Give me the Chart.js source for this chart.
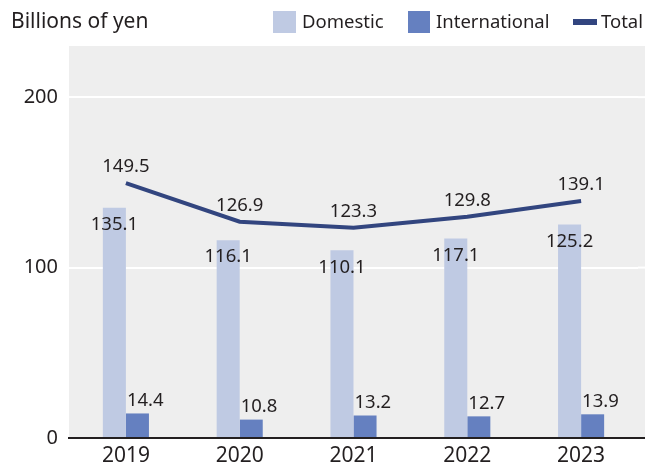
<!DOCTYPE html>
<html>
<head>
<meta charset="utf-8">
<script src="https://cdn.jsdelivr.net/npm/chart.js@4"></script>
<style>
  html, body { margin: 0; padding: 0; background: #fff; }
  #wrap { width: 645px; height: 466px; }
</style>
</head>
<body>
<div id="wrap"><canvas id="barChart" width="645" height="466"></canvas></div>
<script>
  var years = ['2019', '2020', '2021', '2022', '2023'];
  var domestic = [135.1, 116.1, 110.1, 117.1, 125.2];
  var international = [14.4, 10.8, 13.2, 12.7, 13.9];
  var total = [149.5, 126.9, 123.3, 129.8, 139.1];
  var yTicks = [0, 100, 200];

  var textColor = '#231f20';
  var fontName = '"Noto Sans", sans-serif';

  // grey plot background + white grid lines carried to the page edge
  var plotBg = {
    id: 'plotBg',
    beforeDraw: function (chart) {
      var ctx = chart.ctx, a = chart.chartArea;
      ctx.save();
      ctx.fillStyle = '#eeeeee';
      ctx.fillRect(a.left, a.top, chart.width - a.left, a.bottom - a.top);
      var ys = chart.scales.y;
      ctx.strokeStyle = '#ffffff';
      ctx.lineWidth = 2;
      yTicks.forEach(function (v) {
        if (v === 0) return;
        var py = ys.getPixelForValue(v);
        ctx.beginPath();
        ctx.moveTo(a.right, py);
        ctx.lineTo(chart.width, py);
        ctx.stroke();
      });
      ctx.restore();
    },
    afterDraw: function (chart) {
      var ctx = chart.ctx, a = chart.chartArea;
      ctx.save();
      ctx.strokeStyle = textColor;
      ctx.lineWidth = 2;
      ctx.beginPath();
      ctx.moveTo(a.right, a.bottom);
      ctx.lineTo(chart.width, a.bottom);
      ctx.stroke();

      // title + legend
      ctx.fillStyle = textColor;
      ctx.textBaseline = 'middle';
      ctx.textAlign = 'left';
      ctx.font = '21px ' + fontName;
      ctx.fillText('Billions of yen', 11, 22);
      ctx.font = '18.5px ' + fontName;
      ctx.fillStyle = '#bfcae3';
      ctx.fillRect(273, 11, 23, 22);
      ctx.fillStyle = textColor;
      ctx.fillText('Domestic', 302, 23);
      ctx.fillStyle = '#6580c0';
      ctx.fillRect(408, 11, 22, 22);
      ctx.fillStyle = textColor;
      ctx.fillText('International', 436, 23);
      ctx.fillStyle = '#32457f';
      ctx.fillRect(573, 19, 24, 6);
      ctx.fillStyle = textColor;
      ctx.fillText('Total', 601, 23);
      ctx.restore();
    }
  };

  // value labels
  var valueLabels = {
    id: 'valueLabels',
    afterDatasetsDraw: function (chart) {
      var ctx = chart.ctx;
      ctx.save();
      ctx.font = '18.5px ' + fontName;
      ctx.fillStyle = textColor;
      ctx.textBaseline = 'middle';
      chart.data.datasets.forEach(function (ds, i) {
        var meta = chart.getDatasetMeta(i);
        meta.data.forEach(function (el, j) {
          var v = ds.data[j].toFixed(1);
          if (ds.label === 'Domestic') {
            ctx.textAlign = 'center';
            ctx.fillText(v, el.x, el.y + 17);
          } else if (ds.label === 'International') {
            ctx.textAlign = 'left';
            ctx.fillText(v, el.x - el.width / 2 + 1, el.y - 13);
          } else {
            ctx.textAlign = 'center';
            ctx.fillText(v, el.x, el.y - 16);
          }
        });
      });
      ctx.restore();
    }
  };

  var ctxB = document.getElementById('barChart').getContext('2d');
  var myChart = new Chart(ctxB, {
    type: 'bar',
    data: {
      labels: years,
      datasets: [{
          type: 'line',
          label: 'Total',
          data: total,
          borderColor: '#32457f',
          borderWidth: 4,
          pointRadius: 0,
          tension: 0,
          order: 0
        }, {
          label: 'Domestic',
          data: domestic,
          backgroundColor: '#bfcae3',
          categoryPercentage: 0.405,
          barPercentage: 1,
          order: 1
        }, {
          label: 'International',
          data: international,
          backgroundColor: '#6580c0',
          categoryPercentage: 0.405,
          barPercentage: 1,
          order: 1
        }
      ]
    },
    options: {
      responsive: false,
      animation: false,
      layout: { padding: { top: 46, right: 7, left: 0, bottom: 0 } },
      plugins: {
        legend: { display: false },
        tooltip: { enabled: false }
      },
      scales: {
        x: {
          afterFit: function (axis) { axis.height = 28; },
          grid: { display: false, drawTicks: false },
          border: { display: true, color: textColor, width: 2 },
          ticks: { color: textColor, font: { family: fontName, size: 21 }, padding: 5 }
        },
        y: {
          min: 0,
          max: 230,
          afterFit: function (axis) { axis.width = 69; },
          afterBuildTicks: function (axis) {
            axis.ticks = yTicks.map(function (v) { return { value: v }; });
          },
          grid: {
            color: function (c) { return c.tick && c.tick.value === 0 ? textColor : '#ffffff'; },
            lineWidth: 2,
            drawTicks: false
          },
          border: { display: false },
          ticks: { color: textColor, font: { family: fontName, size: 20 }, padding: 11 }
        }
      }
    },
    plugins: [plotBg, valueLabels]
  });
</script>
</body>
</html>
